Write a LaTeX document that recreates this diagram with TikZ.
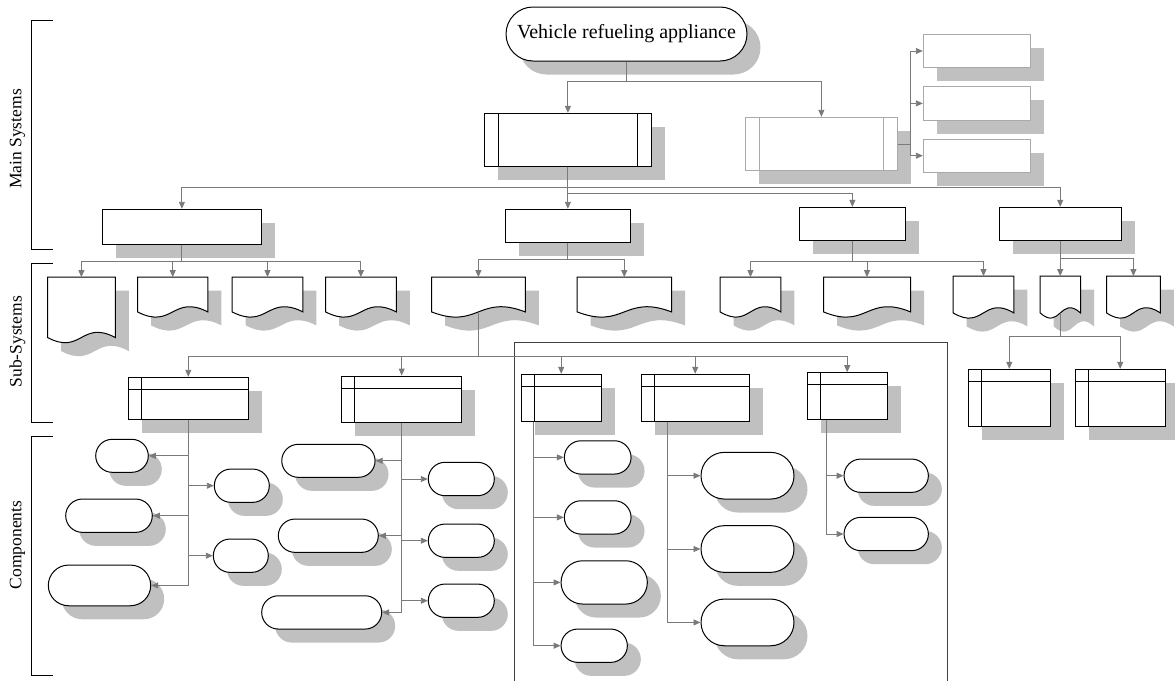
\documentclass[tikz,border=0pt]{standalone}
\usepackage{fontspec}
\setmainfont{Liberation Serif}
\usepackage{tikz}
\usetikzlibrary{positioning,arrows.meta,shapes.misc,shadows,calc}
\definecolor{appline}{RGB}{122,122,122}
\definecolor{appshadow}{RGB}{192,192,192}
\definecolor{applight}{RGB}{170,170,170}
\definecolor{appframe}{RGB}{64,64,64}

\begin{document}
\begin{tikzpicture}[x=1pt,y=-1pt,
    shade box/.style={drop shadow={shadow xshift=13.5pt,shadow yshift=-13.5pt,fill=appshadow,opacity=1}},
    rootbox/.style={rounded rectangle,draw,line width=1pt,fill=white,inner sep=0pt,shade box,
                    font=\fontsize{20}{24}\selectfont},
    procbox/.style={draw=#1,line width=1pt,fill=white,inner sep=0pt,shade box,
                    path picture={\draw[#1,line width=1pt]
                      ([xshift=13.5pt]path picture bounding box.north west) -- ([xshift=13.5pt]path picture bounding box.south west)
                      ([xshift=-13.5pt]path picture bounding box.north east) -- ([xshift=-13.5pt]path picture bounding box.south east);}},
    procbox/.default=black,
    plainbox/.style={draw=#1,line width=1pt,fill=white,inner sep=0pt,shade box},
    plainbox/.default=black,
    storebox/.style={draw,line width=1pt,fill=white,inner sep=0pt,shade box,
                    path picture={\draw[line width=1pt]
                      ([xshift=13pt]path picture bounding box.north west) -- ([xshift=13pt]path picture bounding box.south west)
                      ([yshift=-12pt]path picture bounding box.north west) -- ([yshift=-12pt]path picture bounding box.north east);}},
    docbox/.style={inner sep=0pt},
    docline/.style={draw,line width=1pt,fill=white,shade box},
    partbox/.style={rounded rectangle,draw,line width=1pt,fill=white,inner sep=0pt,shade box},
    conn/.style={draw=appline,line width=0.9pt,-{Triangle[length=7pt,width=6pt]}},
    bracket/.style={draw=black,line width=0.9pt},
    tier/.style={rotate=90,font=\fontsize{17.5}{20}\selectfont}]
\useasboundingbox (0,0) rectangle (1175,681);

% Side brackets
\draw[bracket] (52.7,20.7) -- (31.7,20.7) -- (31.7,249) -- (52.7,249);
\draw[bracket] (52.7,263.3) -- (31.7,263.3) -- (31.7,422.7) -- (52.7,422.7);
\draw[bracket] (52.7,436.7) -- (31.7,436.7) -- (31.7,675) -- (52.7,675);
\node[tier] (lblmain) at (17.5,139) {Main Systems};
\node[tier] (lblsub) at (17.5,341.7) {Sub-Systems};
\node[tier] (lblcomp) at (17.5,545) {Components};

% Frame round the middle group
\draw[appframe,line width=0.9pt] (514.3,681) -- (514.3,342.7) -- (947,342.7) -- (947,681);

% Root and main systems
\node[rootbox,minimum width=241,minimum height=54] (root) at (626.5,34) {Vehicle refueling appliance};
\node[procbox,minimum width=166.3,minimum height=52.7] (pp1) at (567.9,139.7) {};
\node[procbox=applight,minimum width=151.3,minimum height=53.4] (pp2) at (821.4,144) {};
\foreach \n/\y in {r1/51,r2/103.4,r3/155.7}{
    \node[plainbox=applight,minimum width=107,minimum height=33.4] (\n) at (976.8,\y) {};
}

% Second row
\node[plainbox,minimum width=158.3,minimum height=35] (s1) at (181.9,226.8) {};
\node[plainbox,minimum width=124.7,minimum height=33.4] (s2) at (567.7,226) {};
\node[plainbox,minimum width=106.7,minimum height=32.7] (s3) at (852.4,223.7) {};
\node[plainbox,minimum width=121.7,minimum height=32.7] (s4) at (1060.2,223.7) {};

% Sub-systems (documents)
\node[docbox,minimum width=67.3,minimum height=60] (d11) at (81.4,307.3) {};
\foreach \n/\x/\w in {d12/172.7/70,d13/267.5/70.4,d14/360.9/70.3,d21/478.4/93.3,
                      d22/624.3/94,d31/750.5/60.4,d32/867/86.6}{
    \node[docbox,minimum width=\w,minimum height=34.4] (\n) at (\x,294.5) {};
}
\foreach \n/\x/\w in {d33/983.5/60.4,d41/1060.3/40,d42/1133.4/53.3}{
    \node[docbox,minimum width=\w,minimum height=36.4] (\n) at (\x,294.5) {};
}
\foreach \d in {d11,d12,d13,d14,d21,d22,d31,d32,d33,d41,d42}{
    \filldraw[docline] (\d.south west) -- (\d.north west) -- (\d.north east) -- (\d.south east)
        .. controls ($(\d.south)+(0,-18)$) and ($(\d.south)+(0,18)$) .. (\d.south west) -- cycle;
}

% Stores
\node[storebox,minimum width=120,minimum height=42] (t1) at (188.3,398.3) {};
\node[storebox,minimum width=120,minimum height=46.7] (t2) at (401.7,399.4) {};
\node[storebox,minimum width=80.3,minimum height=46.7] (t3) at (561.2,397.7) {};
\node[storebox,minimum width=108.3,minimum height=46.7] (t4) at (695.2,397.7) {};
\node[storebox,minimum width=80.3,minimum height=46.6] (t5) at (847.2,396) {};
\node[storebox,minimum width=82,minimum height=56.7] (t6) at (1009.3,397.7) {};
\node[storebox,minimum width=90.3,minimum height=56.7] (t7) at (1120.2,397.7) {};

% Components
\foreach \n/\x/\y/\w/\h in {k11/122/455.8/52.6/33,k12/241.8/485.7/55/33.3,k13/109/515.7/86.6/33.3,
        k14/240.8/555.7/55/33.3,k15/99.5/585.4/102.4/40.7,
        k21/328.4/460.8/93.3/33,k22/461.3/479/66/33.4,k23/328.3/535.7/100/33.3,
        k24/461.3/540.7/66/33.3,k25/461.3/600.7/66/33.3,k26/321.7/612.4/120/33.3,
        k31/597.7/457.4/66.7/33.3,k32/597.7/517.4/66.7/33.3,k33/604.2/582.4/86.3/43.3,
        k34/594.2/645.7/66.3/33.3,
        k41/747.5/475.7/93/46.7,k42/747.5/549/93/46.7,k43/747.5/622.4/93/46.7,
        k51/886.2/475.7/84.3/33.3,k52/886.2/534/84.3/33.3}{
    \node[partbox,minimum width=\w,minimum height=\h] (\n) at (\x,\y) {};
}

% Connectors, top levels
\draw[conn] (root.south) -- ++(0,20) -| (pp1.north);
\draw[conn] (root.south) -- ++(0,20) -| (pp2.north);
\foreach \r in {r1,r2,r3}
    \draw[conn] (pp2.east) -- ++(13,0) |- (\r.west);
\draw[conn] (pp1.south) -- ++(0,20.7) -| (s1.north);
\draw[conn] (pp1.south) -- (pp1.south |- s2.north);
\draw[conn] (pp1.south) -- ++(0,26.7) -| (s3.north);
\draw[conn] (pp1.south) -- ++(0,20.7) -| (s4.north);

% Connectors to sub-systems
\foreach \d in {d11,d12,d13,d14}
    \draw[conn] (s1.south) -- ++(0,16.4) -| (\d.north);
\foreach \d in {d21,d22}
    \draw[conn] (s2.south) -- ++(0,16.6) -| (\d.north);
\foreach \d in {d31,d32,d33}
    \draw[conn] (s3.south) -- ++(0,20.7) -| (\d.north);
\draw[conn] (s4.south) -- (s4.south |- d41.north);
\draw[conn] (s4.south) -- ++(0,17.7) -| (d42.north);

% Connectors to stores
\foreach \t in {t1,t2,t3,t4,t5}
    \draw[conn] (d21.south) -- ++(0,45) -| (\t.north);
\foreach \t in {t6,t7}
    \draw[conn] (d41.south) -- ++(0,23.3) -| (\t.north);

% Connectors to components
\foreach \k in {k11,k13,k15}
    \draw[conn] (t1.south) |- (\k.east);
\foreach \k in {k12,k14}
    \draw[conn] (t1.south) |- (\k.west);
\foreach \k in {k21,k23,k26}
    \draw[conn] (t2.south) |- (\k.east);
\foreach \k in {k22,k24,k25}
    \draw[conn] (t2.south) |- (\k.west);
\foreach \k in {k31,k32,k33,k34}
    \draw[conn] ([xshift=13.3pt]t3.south west) |- (\k.west);
\foreach \k in {k41,k42,k43}
    \draw[conn] ([xshift=26.7pt]t4.south west) |- (\k.west);
\foreach \k in {k51,k52}
    \draw[conn] ([xshift=20.3pt]t5.south west) |- (\k.west);
\end{tikzpicture}
\end{document}
